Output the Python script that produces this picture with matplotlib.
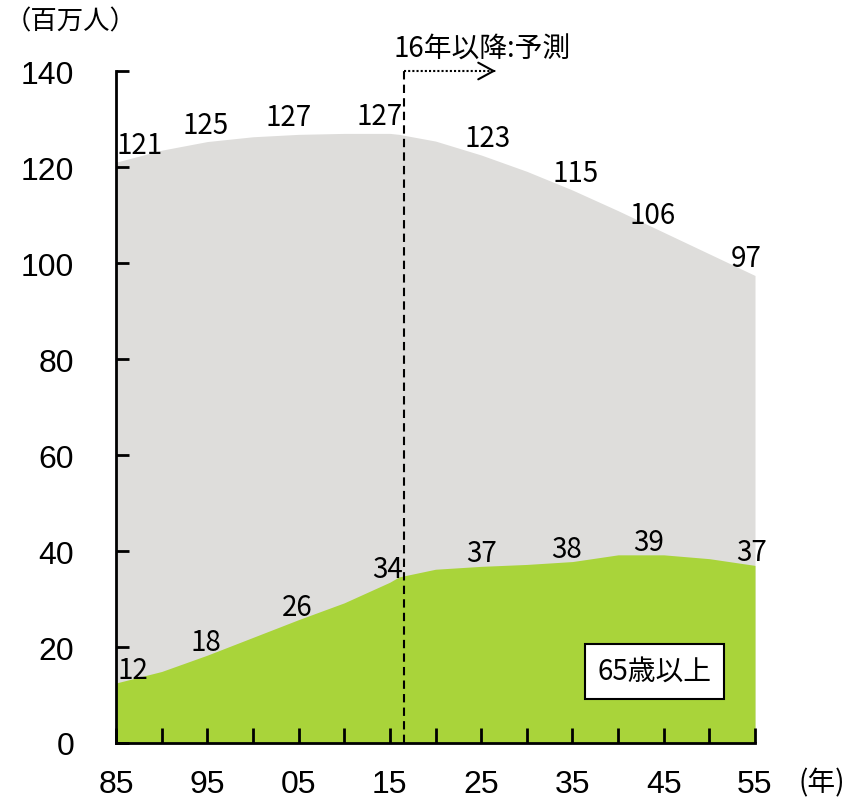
import matplotlib
matplotlib.use('Agg')
import matplotlib.pyplot as plt
from matplotlib.ticker import MultipleLocator

plt.rcParams['font.family'] = ['Noto Sans CJK JP', 'DejaVu Sans']

# 人口推計 (百万人)
years = [1985, 1990, 1995, 2000, 2005, 2010, 2015, 2016,
         2020, 2025, 2030, 2035, 2040, 2045, 2050, 2055]
total = [121.0, 123.5, 125.3, 126.3, 126.8, 127.0, 127.0, 126.8,
         125.4, 122.5, 119.1, 115.2, 110.9, 106.4, 101.9, 97.4]
elderly = [12.5, 14.9, 18.3, 22.0, 25.7, 29.2, 33.5, 34.6,
           36.2, 36.8, 37.2, 37.8, 39.2, 39.2, 38.4, 37.0]

label_years = [1985, 1995, 2005, 2015, 2025, 2035, 2045, 2055]
total_labels = [121, 125, 127, 127, 123, 115, 106, 97]
elderly_labels = [12, 18, 26, 34, 37, 38, 39, 37]
tick_labels = ['85', '95', '05', '15', '25', '35', '45', '55']
forecast_start = 2016.5

gray = '#dedddb'
green = '#a9d43a'

W, H = 855, 803
fig = plt.figure(figsize=(W / 100, H / 100), dpi=100)
ax = fig.add_axes([116 / W, 1 - 744 / H, (755 - 116) / W, (744 - 72) / H])

ax.fill_between(years, 0, total, color=gray, lw=0)
ax.fill_between(years, 0, elderly, color=green, lw=0)

ax.set_xlim(1985, 2055)
ax.set_ylim(0, 140)

for s in ['top', 'right']:
    ax.spines[s].set_visible(False)
for s in ['left', 'bottom']:
    ax.spines[s].set_linewidth(2)

ax.xaxis.set_minor_locator(MultipleLocator(5))
ax.set_xticks(label_years)
ax.set_xticklabels(tick_labels)
ax.yaxis.set_major_locator(MultipleLocator(20))
ax.tick_params(axis='x', which='both', direction='in', length=11, width=2, pad=19)
ax.tick_params(axis='y', direction='in', length=9, width=2, pad=30)
for lab in ax.get_xticklabels() + ax.get_yticklabels():
    lab.set_fontfamily('Liberation Sans')
    lab.set_fontsize(23)

# 数値ラベル (dx: 横方向のずらし, px)
def put_labels(vals, series, dxs, dy):
    for yr, v, dx in zip(label_years, vals, dxs):
        yv = series[years.index(yr)]
        ax.annotate(str(v), (yr, yv), xytext=(dx, dy), textcoords='offset pixels',
                    ha='center', va='baseline', fontsize=20)

put_labels(total_labels, total, [24, -2, -10, -10, 6, 3, -11, -9], 9)
put_labels(elderly_labels, elderly, [17, -1, -1, -2, 0, -6, -15, -3], 5)

# 予測開始線
ax.plot([forecast_start, forecast_start], [0, 140], color='black', lw=1.5,
        ls=(0, (4, 2.5)), clip_on=False)
ax.plot([forecast_start, 2026.6], [140, 140], color='black', lw=1.5,
        ls=(0, (1, 1)), clip_on=False)
ax.annotate('', xy=(2026.9, 140), xytext=(2026.0, 140),
            arrowprops=dict(arrowstyle='->,head_length=1.1,head_width=0.6',
                            lw=1.5, color='black', mutation_scale=10),
            annotation_clip=False)

fig.text(393 / W, 1 - 50 / H, '16年以降:予測', fontsize=20, ha='left', va='center')
fig.text(5 / W, 1 - 22 / H, '（百万人）', fontsize=19, ha='left', va='center')
fig.text(822 / W, 1 - 783 / H, '(年)', fontsize=20, ha='center', va='center')

ax.text(2044.0, 15, '65歳以上', fontsize=20, ha='center', va='center',
        bbox=dict(boxstyle='square,pad=0.45', fc='white', ec='black', lw=1.5))

fig.savefig('out.png', dpi=100)
